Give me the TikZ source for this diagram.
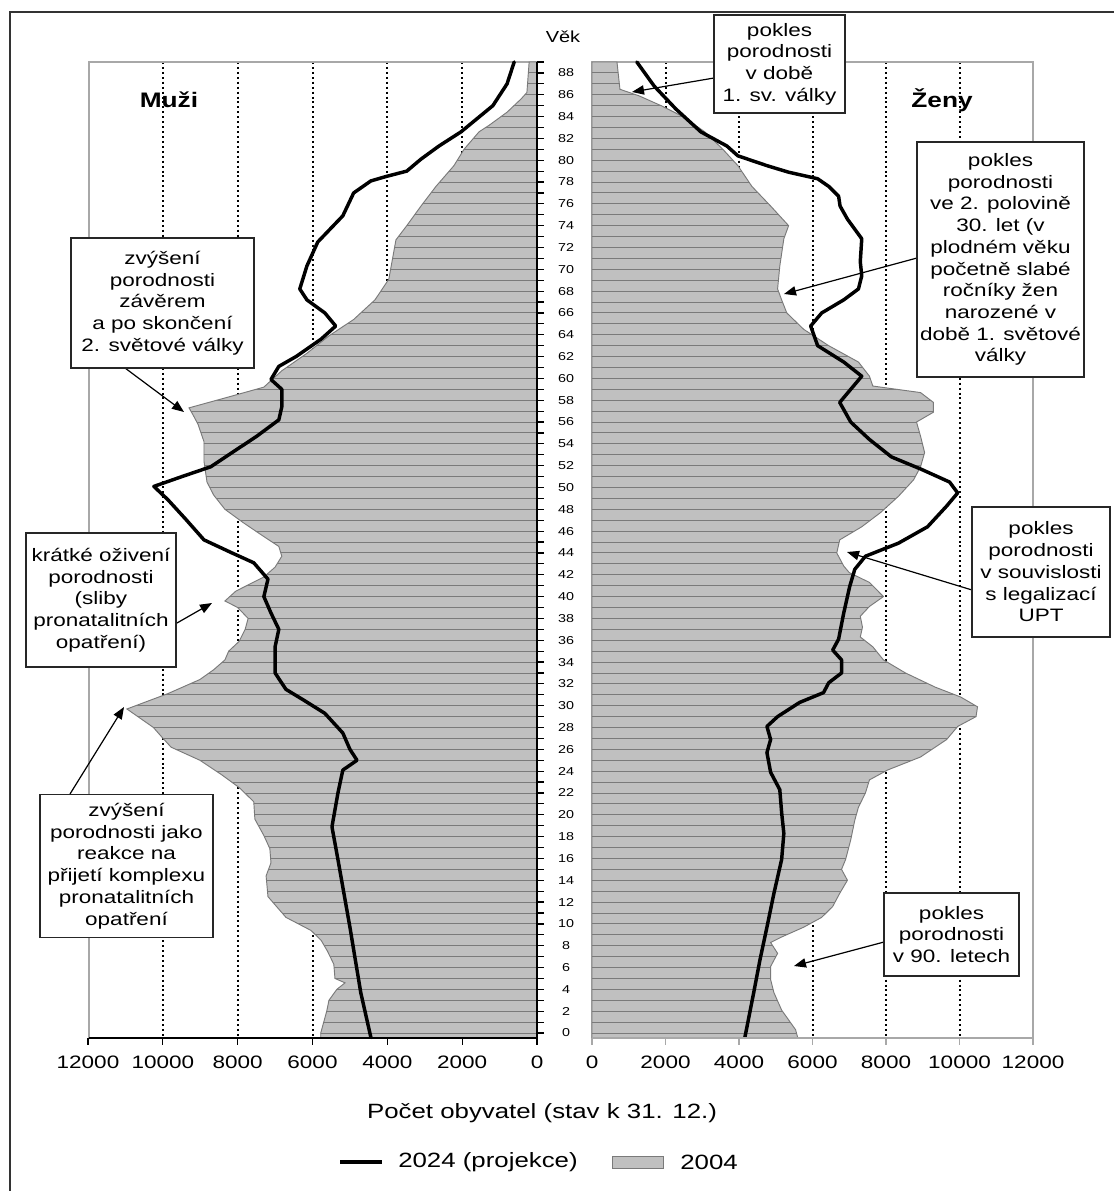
\documentclass[tikz,border=0pt]{standalone}
\usepackage{fontspec}
\setmainfont{Liberation Sans}[FakeStretch=1.25]
\usetikzlibrary{arrows.meta}
\definecolor{barfill}{HTML}{C0C0C0}
\definecolor{barline}{HTML}{7A7A7A}
\definecolor{frameg}{HTML}{A8A8A8}
\tikzset{
  box/.style={draw=black!85, line width=1.1pt, fill=white, align=center, inner sep=0pt,
    font=\fontsize{13.5pt}{16.3pt}\selectfont},
  callout/.style={draw=black, line width=0.9pt, -{Triangle[length=9pt,width=7pt]}},
  gridl/.style={line width=1.5pt, dash pattern=on 1.5pt off 2.2pt},
  proj/.style={line width=2.6pt, line join=round, line cap=round},
  bars/.style={fill=barfill, draw=barline, line width=0.7pt},
  barsep/.style={draw=barline, line width=0.7pt},
  plotframe/.style={draw=frameg, line width=1pt},
  axisl/.style={draw=black, line width=1.1pt},
  agelbl/.style={font=\fontsize{8.6pt}{10pt}\selectfont, inner sep=0pt},
  numlbl/.style={font=\fontsize{13.5pt}{16pt}\selectfont, inner sep=0pt},
  biglbl/.style={font=\fontsize{15.5pt}{18pt}\selectfont, inner sep=0pt},
  sexlbl/.style={font=\fontsize{15.75pt}{18pt}\selectfont\bfseries, inner sep=0pt},
}
\newcommand\maleshape[1]{\path[#1] (0,-0.46) -- (5.78,-0.46) -- (5.78,0) -- (5.7,1) -- (5.62,2) -- (5.56,3) -- (5.35,4) -- (5.13,4.6) -- (5.4,5) -- (5.43,6.3) -- (5.6,7.5) -- (5.77,8.5) -- (6.04,9.4) -- (6.71,10.6) -- (7.19,12.5) -- (7.24,14.4) -- (7.11,15.6) -- (7.14,16.9) -- (7.30,18.1) -- (7.54,19.6) -- (7.57,21.2) -- (7.96,22.5) -- (8.44,23.7) -- (9.01,25) -- (9.78,26.2) -- (10.02,27.1) -- (10.25,28) -- (10.96,29.7) -- (9.87,31.1) -- (9.01,32.4) -- (8.64,33.3) -- (8.34,34.2) -- (8.24,35) -- (7.96,35.9) -- (7.8,37) -- (7.72,38) -- (8.0,39) -- (8.34,39.6) -- (8.05,40.5) -- (7.30,41.8) -- (7.00,42.7) -- (6.82,43.7) -- (6.90,44.6) -- (7.30,45.5) -- (7.86,46.8) -- (8.34,48) -- (8.64,49.3) -- (8.82,50.5) -- (8.90,52.4) -- (8.90,54.2) -- (9.06,55.8) -- (9.20,56.7) -- (9.30,57.3) -- (8.24,58.3) -- (7.30,59.2) -- (7.11,59.8) -- (6.82,60.7) -- (6.15,62.3) -- (5.56,63.9) -- (4.90,65.4) -- (4.33,67.2) -- (3.96,69.1) -- (3.77,72.7) -- (3.48,74) -- (3.10,75.8) -- (2.70,77.6) -- (2.22,79.5) -- (1.95,81) -- (1.55,82.6) -- (1.28,83.2) -- (0.80,84.4) -- (0.43,85.6) -- (0.27,86.2) -- (0.21,89) -- (0,89) -- cycle;}
\newcommand\femaleshape[1]{\path[#1] (0,-0.46) -- (5.6,-0.46) -- (5.54,0.3) -- (5.35,1.2) -- (5.16,2.1) -- (4.95,3.7) -- (4.86,4.9) -- (4.86,6.1) -- (5.05,7.3) -- (4.86,8.3) -- (5.16,8.8) -- (5.76,9.7) -- (6.25,10.6) -- (6.55,11.6) -- (6.74,12.8) -- (6.95,14) -- (6.79,15) -- (6.90,15.9) -- (7.04,17.7) -- (7.15,19.5) -- (7.25,20.7) -- (7.44,22) -- (7.55,23.2) -- (8.04,24.1) -- (8.94,25.3) -- (9.65,26.9) -- (9.95,28.1) -- (10.45,29) -- (10.49,29.9) -- (10.03,30.8) -- (9.34,31.7) -- (8.53,33) -- (7.93,34.2) -- (7.64,35.4) -- (7.3,36.3) -- (7.36,37.2) -- (7.30,38.2) -- (7.55,39.1) -- (7.93,40) -- (7.55,41.3) -- (7.0,42.2) -- (6.85,42.8) -- (6.66,44) -- (6.74,45.2) -- (7.34,46.4) -- (7.85,47.7) -- (8.34,49.2) -- (8.75,50.7) -- (8.94,51.9) -- (9.05,53.2) -- (8.94,54.7) -- (8.83,56) -- (9.29,56.9) -- (9.29,57.8) -- (8.94,58.7) -- (7.64,59.3) -- (7.55,60.2) -- (7.25,61.5) -- (6.44,63) -- (5.76,64.5) -- (5.30,66) -- (5.16,67.2) -- (5.05,68.2) -- (5.11,70.3) -- (5.22,72.8) -- (5.35,74) -- (4.86,75.8) -- (4.35,77.6) -- (3.97,79.5) -- (3.56,81) -- (3.07,82.6) -- (2.47,84) -- (1.88,85) -- (1.28,85.9) -- (0.76,86.5) -- (0.68,89) -- (0,89) -- cycle;}
\begin{document}
\begin{tikzpicture}[x=0.75pt, y=-0.75pt]
\useasboundingbox[fill=white] (0,0) rectangle (1114,1191);
% outer frame
\draw[line width=1.1pt, black!80] (10,1191) -- (10,12) -- (1114,12);
% gridlines
\foreach \i in {1,...,5}{
  \draw[gridl] ({537-74.833*\i},62) -- ({537-74.833*\i},1038);
  \draw[gridl] ({592+73.5*\i},62) -- ({592+73.5*\i},1038);
}
% plot frames
\draw[plotframe] (537,62) -- (89,62) -- (89,1038);
\draw[plotframe] (592,1038) -- (592,62) -- (1033,62) -- (1033,1038);
% male bars 2004
\begin{scope}[shift={(537,1033)}, xscale=-37.417, yscale=-10.91]
  \begin{scope}
    \maleshape{clip}
    \maleshape{fill=barfill}
    \foreach \k in {0,...,88} \draw[barsep] (0,\k) -- (12,\k);
  \end{scope}
  \maleshape{draw=barline, line width=0.7pt}
  \draw[proj] (4.44,-0.4) -- (4.71,3.7) -- (5.0,9.7) -- (5.32,15.9) -- (5.48,18.9) -- (5.32,22) -- (5.19,24.1) -- (4.81,25) -- (5.0,26) -- (5.19,27.5) -- (5.67,29.3) -- (6.23,30.5) -- (6.71,31.5) -- (7.0,33) -- (7.0,35.4) -- (6.9,37) -- (7.11,38.5) -- (7.3,40) -- (7.19,41.6) -- (7.57,43.1) -- (8.15,44) -- (8.9,45.2) -- (9.39,47.1) -- (9.87,48.9) -- (10.24,50.1) -- (9.49,51) -- (8.72,51.9) -- (8.15,53.2) -- (7.49,54.7) -- (6.9,56.2) -- (6.82,57.4) -- (6.82,59) -- (7.11,59.9) -- (6.9,61.1) -- (6.44,62) -- (5.77,63.6) -- (5.38,64.8) -- (5.67,66) -- (6.15,67.2) -- (6.34,68.2) -- (6.15,70.3) -- (5.86,72.5) -- (5.19,74.9) -- (4.9,77) -- (4.44,78.1) -- (4.04,78.5) -- (3.48,79) -- (3.10,80.1) -- (2.62,81.3) -- (2.03,82.6) -- (1.18,85) -- (0.80,87) -- (0.61,89);
\end{scope}
% female bars 2004
\begin{scope}[shift={(592,1033)}, xscale=36.75, yscale=-10.91]
  \begin{scope}
    \femaleshape{clip}
    \femaleshape{fill=barfill}
    \foreach \k in {0,...,88} \draw[barsep] (0,\k) -- (12,\k);
  \end{scope}
  \femaleshape{draw=barline, line width=0.7pt}
  \draw[proj] (4.16,-0.4) -- (4.40,3.7) -- (4.57,6.7) -- (4.76,9.7) -- (4.95,12.8) -- (5.16,15.9) -- (5.22,18.3) -- (5.16,20.2) -- (5.11,22.3) -- (4.86,23.9) -- (4.76,25.7) -- (4.86,26.9) -- (4.76,28.1) -- (5.05,29) -- (5.65,30.3) -- (6.30,31.2) -- (6.44,32.1) -- (6.79,33) -- (6.79,34.2) -- (6.55,35.1) -- (6.71,36.1) -- (6.85,38.5) -- (7.01,40.9) -- (7.15,42.5) -- (7.44,43.7) -- (8.34,44.9) -- (9.13,46.4) -- (9.65,48.3) -- (9.95,49.5) -- (9.73,50.5) -- (8.94,51.7) -- (8.15,52.8) -- (7.55,54.4) -- (7.04,56) -- (6.74,57.8) -- (7.04,59) -- (7.34,60.2) -- (6.85,61.5) -- (6.14,63) -- (5.95,64.8) -- (6.25,66) -- (6.85,67.2) -- (7.25,68.2) -- (7.34,69.4) -- (7.30,70.7) -- (7.34,72.8) -- (6.95,74.6) -- (6.75,75.8) -- (6.71,76.7) -- (6.44,77.6) -- (6.14,78.3) -- (5.35,78.9) -- (4.76,79.5) -- (3.97,80.4) -- (3.67,81.3) -- (2.96,82.6) -- (2.28,84.7) -- (1.69,86.8) -- (1.22,89);
\end{scope}
% axes
\draw[axisl] (537,62) -- (537,1038) -- (89,1038);
\draw[draw=frameg, line width=1.6pt] (592,1038) -- (1033,1038);
\foreach \k in {0,...,89} \draw[axisl, line width=0.9pt] (537,{1033-10.91*\k}) -- (544,{1033-10.91*\k});
\foreach \i in {0,...,6}{
  \draw[axisl, line width=0.9pt] ({537-74.833*\i},1038) -- ({537-74.833*\i},1045);
  \draw[draw=frameg, line width=1pt] ({592+73.5*\i},1038) -- ({592+73.5*\i},1045);
  \pgfmathtruncatemacro\val{2000*\i}
  \node[numlbl] (lx\i) at ({537-74.833*\i},1062) {\val};
  \node[numlbl] (rx\i) at ({592+73.5*\i},1062) {\val};
}
\foreach \k in {0,2,...,88} \node[agelbl] (age\k) at (566,{1033-10.91*\k}) {\k};
\node[agelbl, font=\fontsize{12pt}{14pt}\selectfont] (vek) at (563,37) {Věk};
\node[sexlbl] (muzi) at (169,100) {Muži};
\node[sexlbl] (zeny) at (942,100) {Ženy};
% callout tips and starts
\coordinate (s1) at (125,368); \coordinate (t1) at (184,412);
\coordinate (s2) at (177,623); \coordinate (t2) at (212,603);
\coordinate (s3) at (70,794);  \coordinate (t3) at (124,707);
\coordinate (s4) at (714,78);  \coordinate (t4) at (632,92);
\coordinate (s5) at (917,258); \coordinate (t5) at (784,294);
\coordinate (s6) at (972,590); \coordinate (t6) at (847,552);
\coordinate (s7) at (884,942); \coordinate (t7) at (794,966);
\foreach \n in {1,...,7} \draw[callout] (s\n) -- (t\n);
% boxes
\node[box, minimum width=137.25pt, minimum height=97.5pt] (b1) at (162.5,303) {zvýšení\\porodnosti\\závěrem\\a po skončení\\2. světové války};
\node[box, minimum width=112.5pt, minimum height=100.5pt] (b2) at (101,600) {krátké oživení\\porodnosti\\(sliby\\pronatalitních\\opatření)};
\node[box, minimum width=129.75pt, minimum height=107.25pt] (b3) at (126.5,866) {zvýšení\\porodnosti jako\\reakce na\\přijetí komplexu\\pronatalitních\\opatření};
\node[box, minimum width=98.25pt, minimum height=73.5pt] (b4) at (779.5,64) {pokles\\porodnosti\\v době\\1. sv. války};
\node[box, minimum width=125.25pt, minimum height=176.25pt] (b5) at (1000.5,259.5) {pokles\\porodnosti\\ve 2. polovině\\30. let (v\\plodném věku\\početně slabé\\ročníky žen\\narozené v\\době 1. světové\\války};
\node[box, minimum width=103.5pt, minimum height=97.5pt] (b6) at (1041,572) {pokles\\porodnosti\\v souvislosti\\s legalizací\\UPT};
\node[box, minimum width=101.25pt, minimum height=62.25pt] (b7) at (951.5,934.5) {pokles\\porodnosti\\v 90. letech};
% axis title and legend
\node[biglbl] (xtitle) at (542,1113) {Počet obyvatel (stav k 31. 12.)};
\coordinate (l1a) at (340,1162); \coordinate (l1b) at (382,1162);
\draw[proj, line cap=butt] (l1a) -- (l1b);
\node[biglbl, anchor=west] (leg1) at (398,1162) {2024 (projekce)};
\draw[bars] (612,1156) rectangle (663,1168);
\node[biglbl, anchor=west] (leg2) at (680,1162) {2004};
\end{tikzpicture}
\end{document}
